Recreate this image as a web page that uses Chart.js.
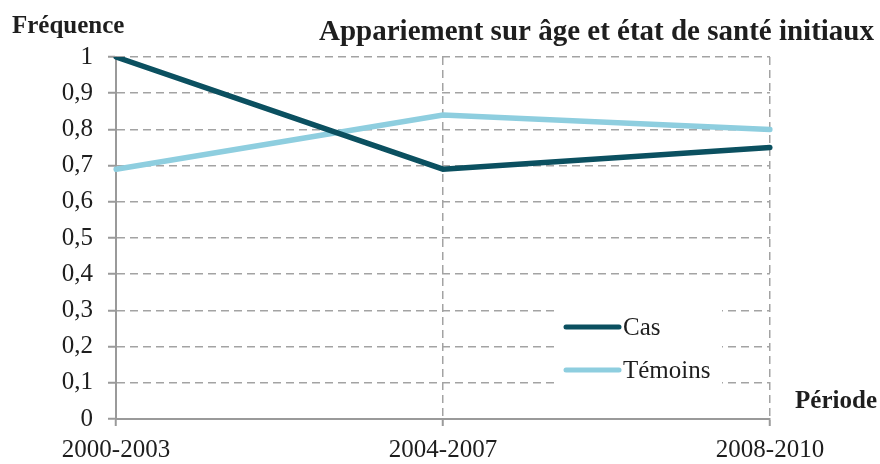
<!DOCTYPE html>
<html lang="fr">
<head>
<meta charset="utf-8">
<title>Appariement sur âge et état de santé initiaux</title>
<script src="https://cdn.jsdelivr.net/npm/chart.js@4.4.1/dist/chart.umd.min.js"></script>
<style>
  html, body { margin: 0; padding: 0; background: #ffffff; }
  #wrap { position: relative; width: 880px; height: 464px; }
</style>
</head>
<body>
<div id="wrap"><canvas id="chart"></canvas></div>
<script>
// Périodes et fréquences observées
const periodes = ['2000-2003', '2004-2007', '2008-2010'];
const cas = [1.0, 0.69, 0.75];
const temoins = [0.69, 0.84, 0.80];
const yTickLabels = ['0', '0,1', '0,2', '0,3', '0,4', '0,5', '0,6', '0,7', '0,8', '0,9', '1'];

const SERIF = "'Liberation Serif', 'Times New Roman', serif";
const GRID = '#a3a3a3';
const AXIS = '#9a9a9a';
const INK = '#1e1e1e';

// Titles and axis captions drawn around the plot area
const annotations = {
  id: 'annotations',
  afterDraw(chart) {
    const ctx = chart.ctx;
    ctx.save();
    ctx.fillStyle = INK;
    ctx.textBaseline = 'alphabetic';
    ctx.font = 'bold 25px ' + SERIF;
    ctx.textAlign = 'left';
    ctx.fillText('Fréquence', 12, 33);
    ctx.textAlign = 'right';
    ctx.font = 'bold 29px ' + SERIF;
    ctx.fillText('Appariement sur âge et état de santé initiaux', 874, 40);
    ctx.font = 'bold 25px ' + SERIF;
    ctx.fillText('Période', 877, 408);
    ctx.restore();
  }
};

// Legend box placed inside the plot area
const insideLegend = {
  id: 'insideLegend',
  afterDatasetsDraw(chart) {
    const ctx = chart.ctx;
    ctx.save();
    ctx.fillStyle = '#ffffff';
    ctx.fillRect(554, 300, 168, 96);
    const rows = [327, 370];
    chart.data.datasets.forEach((ds, i) => {
      const y = rows[i];
      ctx.strokeStyle = ds.borderColor;
      ctx.lineWidth = 5;
      ctx.lineCap = 'round';
      ctx.beginPath();
      ctx.moveTo(566, y);
      ctx.lineTo(619, y);
      ctx.stroke();
      ctx.fillStyle = INK;
      ctx.font = '25px ' + SERIF;
      ctx.textAlign = 'left';
      ctx.textBaseline = 'middle';
      ctx.fillText(ds.label, 623, y + 1);
    });
    ctx.restore();
  }
};

new Chart(document.getElementById('chart'), {
  type: 'line',
  data: {
    labels: periodes,
    datasets: [
      {
        label: 'Cas',
        data: cas,
        borderColor: '#0b5060',
        backgroundColor: '#0b5060',
        borderWidth: 5.5,
        pointRadius: 0,
        tension: 0,
        borderCapStyle: 'round'
      },
      {
        label: 'Témoins',
        data: temoins,
        borderColor: '#8ecedf',
        backgroundColor: '#8ecedf',
        borderWidth: 5.5,
        pointRadius: 0,
        tension: 0,
        borderCapStyle: 'round'
      }
    ]
  },
  options: {
    responsive: true,
    maintainAspectRatio: false,
    animation: false,
    layout: { padding: { top: 57, right: 110, left: 0, bottom: 0 } },
    plugins: {
      legend: { display: false },
      tooltip: { enabled: false },
      title: { display: false }
    },
    scales: {
      x: {
        type: 'category',
        offset: false,
        afterFit(scale) { scale.height = 45; },
        grid: {
          color: GRID,
          lineWidth: 1.5,
          drawTicks: true,
          tickLength: 7,
          tickColor: AXIS,
          tickWidth: 2,
          tickBorderDash: []
        },
        border: { display: true, color: AXIS, width: 2, dash: [8, 5] },
        ticks: {
          color: INK,
          font: { family: SERIF, size: 25 },
          padding: 9,
          maxRotation: 0,
          autoSkip: false
        }
      },
      y: {
        min: 0,
        max: 1,
        afterFit(scale) { scale.width = 116; },
        grid: {
          color: GRID,
          lineWidth: 1.5,
          drawTicks: true,
          tickLength: 8,
          tickColor: AXIS,
          tickWidth: 2,
          tickBorderDash: []
        },
        border: { display: true, color: AXIS, width: 2, dash: [8, 5] },
        ticks: {
          stepSize: 0.1,
          color: INK,
          font: { family: SERIF, size: 25 },
          padding: 15,
          callback: (value, index) => yTickLabels[index]
        }
      }
    }
  },
  plugins: [annotations, insideLegend]
});
</script>
</body>
</html>
